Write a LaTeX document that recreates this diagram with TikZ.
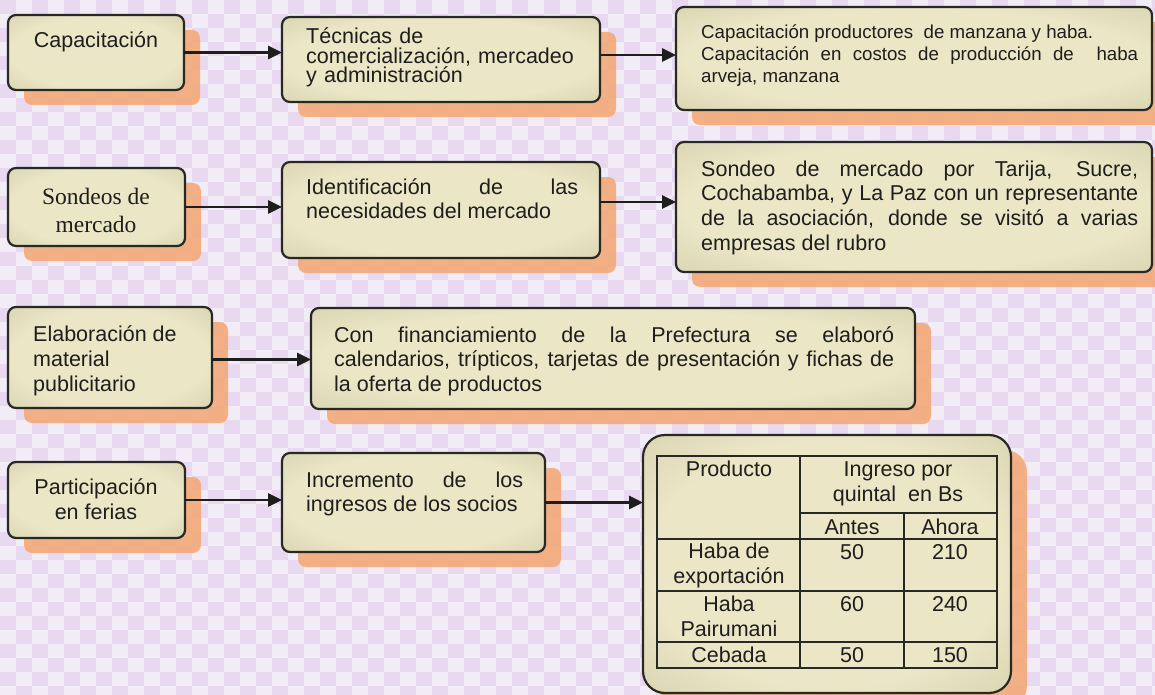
\documentclass[tikz,border=0pt]{standalone}
\usepackage{fontspec}
\newfontfamily\arial{Liberation Sans}
\newfontfamily\serifsondeo{Liberation Serif}
\usetikzlibrary{arrows.meta,backgrounds,calc}
\definecolor{bgc}{RGB}{242,236,246}
\definecolor{cellc}{RGB}{233,217,240}
\definecolor{shadc}{RGB}{243,162,104}
\definecolor{boxin}{RGB}{234,230,198}
\definecolor{boxmid}{RGB}{212,208,172}
\definecolor{boxout}{RGB}{172,168,132}
\definecolor{edge}{RGB}{40,40,36}
\definecolor{ink}{RGB}{30,30,28}
\pgfdeclareradialshading{boxshade}{\pgfpoint{0bp}{0bp}}{color(0bp)=(boxin); color(24bp)=(boxin); color(40bp)=(boxmid); color(50bp)=(boxout)}
\hbadness=10000
\begin{document}
\begin{tikzpicture}[x=1pt,y=-1pt,
  box/.style={draw=edge, line width=2.2pt, rounded corners=8pt, shading=boxshade, anchor=north west, inner sep=0pt, outer sep=0pt},
  arr/.style={draw=ink, line width=2.6pt, -{Triangle[length=14pt,width=13pt]}},
  txt/.style={text=ink, inner sep=0pt, font={\arial\fontsize{21.5}{24.7}\selectfont}},
  grid/.style={draw=edge, line width=1.6pt},
  shadow/.style={fill=shadc, opacity=0.8, rounded corners=8pt}
]
\useasboundingbox (0,0) rectangle (1155,695);
% boxes
\node[box, minimum width=176pt, minimum height=75pt] (a1) at (8,15) {};
\node[box, minimum width=318pt, minimum height=85pt] (b1) at (282,17) {};
\node[box, minimum width=476pt, minimum height=103pt] (c1) at (676,7) {};
\node[box, minimum width=177pt, minimum height=78pt] (a2) at (8,168) {};
\node[box, minimum width=318pt, minimum height=96pt] (b2) at (282,162) {};
\node[box, minimum width=476pt, minimum height=130pt] (c2) at (676,142) {};
\node[box, minimum width=204pt, minimum height=101pt] (a3) at (8,307) {};
\node[box, minimum width=604pt, minimum height=101pt] (b3) at (311,308) {};
\node[box, minimum width=177pt, minimum height=76pt] (a4) at (8,462) {};
\node[box, minimum width=263pt, minimum height=99pt] (b4) at (282,453) {};
\node[box, rounded corners=22pt, minimum width=368pt, minimum height=258pt] (t) at (643,435) {};
% shadows and background
\begin{scope}[on background layer]
  \fill[bgc] (0,0) rectangle (1155,695);
  \foreach \i in {0,2,...,72} \foreach \j in {0,2,...,50} {
    \fill[cellc] (\i*16,\j*14) rectangle ++(16,14);
    \fill[cellc] (\i*16+16,\j*14+14) rectangle ++(16,14);
  }
  \foreach \n in {a1,b1,c1,a2,b2,c2,a3,b3,a4,b4} {
    \fill[shadow] ($(\n.north west)+(16,15)$) rectangle ($(\n.south east)+(16,15)$);
  }
  \fill[shadow, rounded corners=22pt] ($(t.north west)+(16,15)$) rectangle ($(t.south east)+(16,15)$);
\end{scope}
% texts
\node[txt, anchor=base] (ta1) at (96,48) {Capacitación};
\node[txt, anchor=base west, text width=300pt, align=left, font={\arial\fontsize{21.5}{19.5}\selectfont}] (tb1) at (306,44) {Técnicas de\\comercialización, mercadeo\\y administración};
\node[txt, anchor=base west, text width=437pt, align=justify, font={\arial\fontsize{18.7}{21.7}\selectfont}] (tc1) at (701,39) {Capacitación productores \ de manzana y haba.\\Capacitación en costos de producción de \ haba\linebreak arveja, manzana};
\node[txt, anchor=base, align=center, font={\serifsondeo\fontsize{23.5}{28}\selectfont}] (ta2) at (96,232) {Sondeos de\\mercado};
\node[txt, anchor=base west, text width=272pt, align=justify] (tb2) at (306,194) {Identificación de las\linebreak necesidades del mercado};
\node[txt, anchor=base west, text width=437pt, align=justify] (tc2) at (701,176) {Sondeo de mercado por Tarija, Sucre,\linebreak Cochabamba, y La Paz con un representante\linebreak de la asociación, donde se visitó a varias\linebreak empresas del rubro};
\node[txt, anchor=base west, align=left] (ta3) at (33,391) {Elaboración de\\material\\publicitario};
\node[txt, anchor=base west, text width=560pt, align=justify] (tb3) at (334,342) {Con financiamiento de la Prefectura se elaboró\linebreak calendarios, trípticos, tarjetas de presentación y fichas de\linebreak la oferta de productos};
\node[txt, anchor=base, align=center] (ta4) at (96,519) {Participación\\en ferias};
\node[txt, anchor=base west, text width=217pt, align=justify] (tb4) at (306,487) {Incremento de los\linebreak ingresos de los socios};
% arrows
\draw[arr] (a1.east) -- (a1.east -| b1.west);
\draw[arr] ([yshift=4.5pt]b1.east) -- ([yshift=4.5pt]b1.east -| c1.west);
\draw[arr] (a2.east) -- (a2.east -| b2.west);
\draw[arr] ([yshift=8pt]b2.east) -- ([yshift=8pt]b2.east -| c2.west);
\draw[arr] ([yshift=-2pt]a3.east) -- ([yshift=-2pt]a3.east -| b3.west);
\draw[arr] (a4.east) -- (a4.east -| b4.west);
\draw[arr] (b4.east) -- (b4.east -| t.west);
% table grid
\draw[grid] (657,456) rectangle (997,668);
\draw[grid] (800,456) -- (800,668);
\draw[grid] (904,513) -- (904,668);
\draw[grid] (800,513) -- (997,513);
\draw[grid] (657,539) -- (997,539);
\draw[grid] (657,591) -- (997,591);
\draw[grid] (657,642) -- (997,642);
% table texts
\node[txt, anchor=base] (h1) at (729,476) {Producto};
\node[txt, anchor=base, align=center] (h2) at (898,501) {Ingreso por\\quintal \ en Bs};
\node[txt, anchor=base] (h3) at (852,534) {Antes};
\node[txt, anchor=base] (h4) at (950,534) {Ahora};
\node[txt, anchor=base, align=center] (r1) at (729,583) {Haba de\\exportación};
\node[txt, anchor=base] (r1a) at (852,559) {50};
\node[txt, anchor=base] (r1b) at (950,559) {210};
\node[txt, anchor=base, align=center] (r2) at (729,636) {Haba\\Pairumani};
\node[txt, anchor=base] (r2a) at (852,611) {60};
\node[txt, anchor=base] (r2b) at (950,611) {240};
\node[txt, anchor=base] (r3) at (729,662) {Cebada};
\node[txt, anchor=base] (r3a) at (852,662) {50};
\node[txt, anchor=base] (r3b) at (950,662) {150};
\end{tikzpicture}
\end{document}
